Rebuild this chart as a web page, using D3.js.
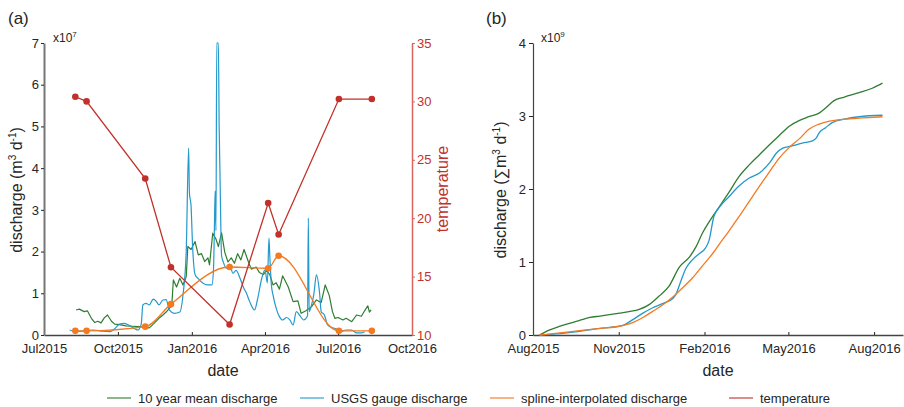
<!DOCTYPE html>
<html><head><meta charset="utf-8">
<script src="https://cdn.jsdelivr.net/npm/d3@7"></script>
<style>
body{margin:0;background:#fff;}
svg{display:block;font-family:"Liberation Sans",Arial,Helvetica,sans-serif;}
</style></head><body>
<svg id="chart" width="904" height="407"></svg>
<script>
// ---------- Panel (a) data (discharge in 1e7 m3/d) ----------
const meanDates = ["2015-08-10","2015-08-14","2015-08-20","2015-08-24","2015-08-29","2015-09-02","2015-09-06","2015-09-10","2015-09-14","2015-09-18","2015-09-23","2015-09-27","2015-10-03","2015-10-11","2015-10-19","2015-10-28","2015-11-03","2015-11-09","2015-11-15","2015-11-21","2015-11-26","2015-11-30","2015-12-04","2015-12-07","2015-12-09","2015-12-13","2015-12-17","2015-12-21","2015-12-25","2015-12-27","2015-12-31","2016-01-05","2016-01-09","2016-01-13","2016-01-17","2016-01-21","2016-01-23","2016-01-27","2016-01-31","2016-02-03","2016-02-07","2016-02-11","2016-02-15","2016-02-19","2016-02-23","2016-02-27","2016-03-02","2016-03-06","2016-03-12","2016-03-15","2016-03-21","2016-03-25","2016-03-30","2016-04-03","2016-04-07","2016-04-11","2016-04-15","2016-04-19","2016-04-23","2016-04-30","2016-05-06","2016-05-12","2016-05-16","2016-05-22","2016-05-29","2016-06-04","2016-06-10","2016-06-15","2016-06-20","2016-06-24","2016-06-27","2016-07-01","2016-07-07","2016-07-11","2016-07-18","2016-07-24","2016-07-30","2016-08-03","2016-08-07","2016-08-09","2016-08-11"];
const meanValues = [0.60,0.62,0.56,0.58,0.40,0.30,0.33,0.29,0.41,0.48,0.33,0.26,0.25,0.22,0.21,0.20,0.19,0.17,0.28,0.40,0.48,0.55,0.64,0.70,1.32,1.15,1.36,1.20,1.40,2.12,2.05,2.24,1.92,1.95,1.76,1.85,1.68,2.44,2.30,2.12,2.45,1.98,1.75,1.85,1.72,1.95,1.80,2.05,1.72,1.58,1.63,1.50,1.45,1.55,1.45,1.20,1.25,1.10,1.42,1.15,0.80,0.82,0.52,0.58,0.68,0.84,0.78,1.20,0.95,0.56,0.40,0.42,0.36,0.40,0.32,0.48,0.45,0.58,0.70,0.55,0.60];

const usgsDates = ["2015-08-02","2015-08-10","2015-08-19","2015-08-31","2015-09-12","2015-09-21","2015-09-27","2015-10-03","2015-10-09","2015-10-16","2015-10-22","2015-10-26","2015-10-30","2015-11-01","2015-11-05","2015-11-09","2015-11-14","2015-11-18","2015-11-21","2015-11-26","2015-11-30","2015-12-04","2015-12-10","2015-12-17","2015-12-21","2015-12-25","2015-12-28","2015-12-29","2015-12-31","2016-01-02","2016-01-05","2016-01-09","2016-01-15","2016-01-20","2016-01-26","2016-01-28","2016-01-29","2016-01-30","2016-01-31","2016-02-01","2016-02-03","2016-02-04","2016-02-05","2016-02-07","2016-02-09","2016-02-13","2016-02-17","2016-02-21","2016-02-25","2016-03-01","2016-03-05","2016-03-09","2016-03-13","2016-03-19","2016-03-23","2016-03-28","2016-04-01","2016-04-04","2016-04-06","2016-04-07","2016-04-09","2016-04-11","2016-04-15","2016-04-19","2016-04-23","2016-04-28","2016-05-02","2016-05-06","2016-05-10","2016-05-15","2016-05-19","2016-05-24","2016-05-25","2016-05-26","2016-05-29","2016-06-01","2016-06-04","2016-06-08","2016-06-10","2016-06-14","2016-06-18","2016-06-22","2016-06-29","2016-07-03","2016-07-11","2016-07-18","2016-07-24","2016-07-30","2016-08-03"];
const usgsValues = [0.12,0.08,0.10,0.12,0.09,0.08,0.15,0.26,0.28,0.22,0.15,0.12,0.26,0.72,0.76,0.72,0.86,0.80,0.72,0.84,0.85,0.60,0.52,0.55,0.96,2.00,4.48,3.40,3.10,2.10,1.45,1.35,1.24,1.20,1.20,1.60,2.48,3.45,2.50,7.00,7.00,5.00,3.90,1.90,1.76,1.60,1.70,1.48,1.55,1.36,1.15,1.00,0.80,0.60,0.88,1.36,1.56,1.25,2.32,1.90,1.20,0.96,0.64,0.44,0.36,0.42,0.36,0.24,0.56,0.45,0.36,0.46,2.80,0.56,0.72,1.00,1.44,1.00,0.56,0.48,0.24,0.19,0.14,0.08,0.12,0.12,0.05,0.05,0.08];

const sampleDates = ["2015-08-09","2015-08-23","2015-11-04","2015-12-06","2016-02-17","2016-04-05","2016-04-18","2016-07-02","2016-08-12"];
const splineValues = [0.10,0.10,0.20,0.74,1.63,1.60,1.90,0.10,0.10];
const temperatureValues = [30.4,30.0,23.4,15.8,10.9,21.3,18.6,30.2,30.2];

const ticksA = ["2015-07-01","2015-10-01","2016-01-01","2016-04-01","2016-07-01","2016-10-01"];
const leftTicksA = [0,1,2,3,4,5,6,7];
const rightTicksA = [10,15,20,25,30,35];

// ---------- Panel (b) data (cumulative, 1e9 m3) ----------
const cumMeanDates = ["2015-08-08","2015-08-19","2015-08-30","2015-09-09","2015-09-20","2015-10-01","2015-10-12","2015-10-22","2015-11-02","2015-11-12","2015-11-23","2015-12-04","2015-12-14","2015-12-25","2016-01-05","2016-01-16","2016-01-23","2016-01-30","2016-02-06","2016-02-17","2016-02-27","2016-03-09","2016-03-20","2016-03-31","2016-04-11","2016-04-21","2016-05-02","2016-05-13","2016-05-23","2016-06-03","2016-06-10","2016-06-19","2016-06-30","2016-07-16","2016-07-30","2016-08-10"];
const cumMeanValues = [0,0.07,0.12,0.16,0.20,0.24,0.26,0.28,0.30,0.32,0.35,0.42,0.53,0.67,0.93,1.07,1.21,1.40,1.55,1.76,1.95,2.17,2.33,2.47,2.61,2.73,2.86,2.94,2.99,3.04,3.11,3.21,3.26,3.32,3.38,3.45];

const cumUsgsDates = ["2015-08-08","2015-08-30","2015-09-20","2015-10-12","2015-10-26","2015-11-07","2015-11-16","2015-11-27","2015-12-07","2015-12-18","2015-12-29","2016-01-01","2016-01-07","2016-01-12","2016-01-19","2016-01-26","2016-02-02","2016-02-06","2016-02-11","2016-02-17","2016-02-27","2016-03-09","2016-03-20","2016-03-31","2016-04-11","2016-04-18","2016-04-25","2016-05-05","2016-05-16","2016-05-27","2016-05-31","2016-06-03","2016-06-10","2016-06-17","2016-07-01","2016-07-16","2016-08-10"];
const cumUsgsValues = [0,0.02,0.05,0.09,0.11,0.14,0.21,0.30,0.37,0.43,0.50,0.55,0.75,0.91,1.03,1.11,1.19,1.30,1.62,1.75,1.89,2.04,2.15,2.22,2.36,2.49,2.56,2.59,2.63,2.66,2.70,2.77,2.84,2.91,2.96,2.99,3.01];

const cumSplineDates = ["2015-08-08","2015-08-30","2015-09-20","2015-10-12","2015-11-02","2015-11-16","2015-11-27","2015-12-07","2015-12-18","2015-12-29","2016-01-08","2016-01-19","2016-01-30","2016-02-10","2016-02-20","2016-02-27","2016-03-09","2016-03-20","2016-03-31","2016-04-11","2016-04-21","2016-05-02","2016-05-13","2016-05-23","2016-06-03","2016-06-14","2016-06-25","2016-07-16","2016-08-10"];
const cumSplineValues = [0,0.03,0.06,0.09,0.12,0.17,0.24,0.32,0.41,0.52,0.64,0.78,0.95,1.12,1.30,1.42,1.62,1.83,2.04,2.24,2.42,2.57,2.69,2.82,2.89,2.93,2.95,2.97,2.99];

const ticksB = ["2015-08-01","2015-11-01","2016-02-01","2016-05-01","2016-08-01"];
const leftTicksB = [0,1,2,3,4];

const legendLabels = ["10 year mean discharge","USGS gauge discharge","spline-interpolated discharge","temperature"];
</script>
<script>
const C = {green:"#2f7d32", blue:"#2399cc", orange:"#f47920", red:"#c2302a", redAxis:"#d9655c", text:"#262626"};
const parse = d3.utcParse("%Y-%m-%d");
const fmt = d3.utcFormat("%b%Y");
const intFmt = d3.format("d");
const svg = d3.select("#chart");
const zip = (ds, vs) => ds.map((d,i)=>({date:parse(d), v:vs[i]}));

// ===== Panel (a) =====
const xA = d3.scaleUtc().domain([parse("2015-07-01"), parse("2016-10-01")]).range([44, 412]);
const yA = d3.scaleLinear().domain([0,7]).range([335, 43]);
const yT = d3.scaleLinear().domain([10,35]).range([335, 43]);
const gA = svg.append("g");

function styleAxis(g, color){
  g.selectAll("text").attr("fill", color).style("font-size","13px").style("font-family","Liberation Sans, Arial, sans-serif");
  g.selectAll("line").attr("stroke", color);
}

const axXA = gA.append("g").attr("transform","translate(0,335)")
  .call(d3.axisBottom(xA).tickValues(ticksA.map(parse)).tickFormat(fmt).tickSizeInner(-3).tickSizeOuter(0));
styleAxis(axXA, C.text);
axXA.select(".domain").attr("stroke","#444").attr("stroke-width",1.4);
axXA.selectAll("text").attr("y",9);

const axYA = gA.append("g").attr("transform","translate(44,0)")
  .call(d3.axisLeft(yA).tickValues(leftTicksA).tickFormat(intFmt).tickSizeInner(3).tickSizeOuter(0).tickPadding(2));
styleAxis(axYA, C.text);
axYA.select(".domain").attr("stroke","#777").attr("stroke-width",2);

const axYT = gA.append("g").attr("transform","translate(412,0)")
  .call(d3.axisRight(yT).tickValues(rightTicksA).tickFormat(intFmt).tickSizeInner(3).tickSizeOuter(0).tickPadding(2));
styleAxis(axYT, C.red);
axYT.selectAll("line").attr("stroke", C.redAxis);
axYT.select(".domain").attr("stroke", C.redAxis).attr("stroke-width",1.5);

const lineA = d3.line().x(d=>xA(d.date)).y(d=>yA(d.v));
gA.append("path").datum(zip(meanDates, meanValues)).attr("d", lineA)
  .attr("fill","none").attr("stroke",C.green).attr("stroke-width",1.2).attr("stroke-linejoin","round");
gA.append("path").datum(zip(usgsDates, usgsValues)).attr("d", d3.line().x(d=>xA(d.date)).y(d=>yA(d.v)).curve(d3.curveMonotoneX))
  .attr("fill","none").attr("stroke",C.blue).attr("stroke-width",1.2).attr("stroke-linejoin","round");
const splinePts = zip(sampleDates, splineValues);
gA.append("path").datum(splinePts).attr("d", d3.line().x(d=>xA(d.date)).y(d=>yA(d.v)).curve(d3.curveMonotoneX))
  .attr("fill","none").attr("stroke",C.orange).attr("stroke-width",1.3);
gA.selectAll("circle.sp").data(splinePts).join("circle").attr("class","sp")
  .attr("cx",d=>xA(d.date)).attr("cy",d=>yA(d.v)).attr("r",3.3).attr("fill",C.orange);
const tempPts = zip(sampleDates, temperatureValues);
gA.append("path").datum(tempPts).attr("d", d3.line().x(d=>xA(d.date)).y(d=>yT(d.v)))
  .attr("fill","none").attr("stroke",C.red).attr("stroke-width",1.3);
gA.selectAll("circle.tp").data(tempPts).join("circle").attr("class","tp")
  .attr("cx",d=>xA(d.date)).attr("cy",d=>yT(d.v)).attr("r",3.3).attr("fill",C.red);

svg.append("text").attr("x",8).attr("y",24).attr("fill",C.text).style("font-size","17px").text("(a)");
const e7 = svg.append("text").attr("x",53).attr("y",42).attr("fill",C.text).style("font-size","12px");
e7.append("tspan").text("x10"); e7.append("tspan").attr("dy",-5).style("font-size","8px").text("7");
svg.append("text").attr("x",223).attr("y",376).attr("text-anchor","middle").attr("fill",C.text).style("font-size","16px").text("date");
const ylA = svg.append("text").attr("transform","translate(22,190) rotate(-90)").attr("text-anchor","middle").attr("fill",C.text).style("font-size","16px");
ylA.append("tspan").text("discharge (m");
ylA.append("tspan").attr("dy",-6).style("font-size","10px").text("3");
ylA.append("tspan").attr("dy",6).text(" d");
ylA.append("tspan").attr("dy",-6).style("font-size","10px").text("-1");
ylA.append("tspan").attr("dy",6).text(")");
svg.append("text").attr("transform","translate(448,189) rotate(-90)").attr("text-anchor","middle").attr("fill",C.red).style("font-size","16px").text("temperature");

// ===== Panel (b) =====
const xB = d3.scaleUtc().domain([parse("2015-08-01"), parse("2016-09-01")]).range([533, 903]);
const yB = d3.scaleLinear().domain([0,4]).range([335, 43]);
const gB = svg.append("g");
const axXB = gB.append("g").attr("transform","translate(0,335)")
  .call(d3.axisBottom(xB).tickValues(ticksB.map(parse)).tickFormat(fmt).tickSizeInner(-3).tickSizeOuter(0));
styleAxis(axXB, C.text);
axXB.select(".domain").attr("stroke","#444").attr("stroke-width",1.4);
axXB.selectAll("text").attr("y",9);
const axYB = gB.append("g").attr("transform","translate(533,0)")
  .call(d3.axisLeft(yB).tickValues(leftTicksB).tickFormat(intFmt).tickSizeInner(4).tickSizeOuter(0).tickPadding(3));
styleAxis(axYB, C.text);
axYB.select(".domain").attr("stroke","#444").attr("stroke-width",1.2);

const lineB = d3.line().x(d=>xB(d.date)).y(d=>yB(d.v)).curve(d3.curveMonotoneX);
[[cumMeanDates,cumMeanValues,C.green],[cumUsgsDates,cumUsgsValues,C.blue],[cumSplineDates,cumSplineValues,C.orange]]
  .forEach(([ds,vs,c])=>{
    gB.append("path").datum(zip(ds,vs)).attr("d",lineB).attr("fill","none").attr("stroke",c).attr("stroke-width",1.3);
  });

svg.append("text").attr("x",486).attr("y",24).attr("fill",C.text).style("font-size","17px").text("(b)");
const e9 = svg.append("text").attr("x",541).attr("y",42).attr("fill",C.text).style("font-size","12px");
e9.append("tspan").text("x10"); e9.append("tspan").attr("dy",-5).style("font-size","8px").text("9");
svg.append("text").attr("x",718).attr("y",376).attr("text-anchor","middle").attr("fill",C.text).style("font-size","16px").text("date");
const ylB = svg.append("text").attr("transform","translate(506,190) rotate(-90)").attr("text-anchor","middle").attr("fill",C.text).style("font-size","16px");
ylB.append("tspan").text("discharge (\u2211m");
ylB.append("tspan").attr("dy",-6).style("font-size","10px").text("3");
ylB.append("tspan").attr("dy",6).text(" d");
ylB.append("tspan").attr("dy",-6).style("font-size","10px").text("-1");
ylB.append("tspan").attr("dy",6).text(")");

// ===== Legend =====
const legColors = [C.green, C.blue, C.orange, C.red];
const legX = [107, 300, 490, 729];
const leg = svg.append("g");
legendLabels.forEach((lab,i)=>{
  leg.append("line").attr("x1",legX[i]).attr("x2",legX[i]+24).attr("y1",398).attr("y2",398)
    .attr("stroke",legColors[i]).attr("stroke-width",1.3).attr("opacity",0.85);
  leg.append("text").attr("x",legX[i]+31).attr("y",403).attr("fill",C.text).style("font-size","13px").text(lab);
});
</script>
</body></html>
